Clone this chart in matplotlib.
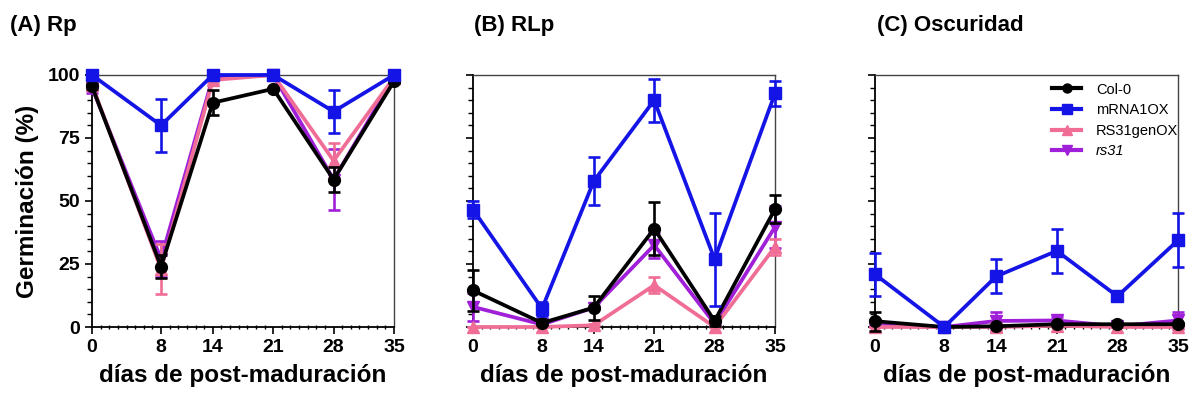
import matplotlib
matplotlib.use('Agg')
import matplotlib.pyplot as plt
from matplotlib.ticker import MultipleLocator
from matplotlib.lines import Line2D

plt.rcParams['font.family'] = ['Liberation Sans', 'DejaVu Sans']

days = [0, 8, 14, 21, 28, 35]
genotypes = ['Col-0', 'mRNA1OX', 'RS31genOX', 'rs31']
colors = ['#000000', '#1414E6', '#F06E96', '#A01FD8']
markers = ['o', 's', '^', 'v']
zorders = [5, 6, 4, 3]

panel_titles = ['(A) Rp', '(B) RLp', '(C) Oscuridad']

# (A) Rp
rp_col0 = [95.5, 24, 89, 94.5, 58.5, 97.5]
rp_col0_err = [1, 4.5, 5, 0.5, 5, 0.5]
rp_mrna = [100, 80, 100, 100, 85.5, 100]
rp_mrna_err = [0, 10.5, 0, 0, 8.5, 0]
rp_gen = [96, 23, 98, 100, 66, 99]
rp_gen_err = [1, 10, 1, 0, 7, 0.5]
rp_rs31 = [95, 27, 99, 100, 58.5, 99]
rp_rs31_err = [2, 7, 0.5, 0, 12, 0.5]

# (B) RLp
rlp_col0 = [14.5, 1.6, 7.7, 39, 2.4, 46.8]
rlp_col0_err = [8.2, 1, 4.8, 10.6, 2, 5.5]
rlp_mrna = [46.6, 7.3, 57.9, 90, 26.9, 92.7]
rlp_mrna_err = [3.3, 2.8, 9.6, 8.6, 18.5, 5]
rlp_gen = [0, 0, 0.7, 16.6, 0, 31.8]
rlp_gen_err = [0, 0, 0.5, 3.2, 0, 3.3]
rlp_rs31 = [8, 1, 7.7, 32.5, 1.3, 39.7]
rlp_rs31_err = [5.5, 0.5, 0.5, 5, 0.5, 8.5]

# (C) Oscuridad
osc_col0 = [2.3, 0, 0.3, 1.1, 1.1, 1.1]
osc_col0_err = [3.7, 0, 0.3, 0.5, 0.3, 0.5]
osc_mrna = [20.9, 0, 20.1, 30.2, 12.2, 34.4]
osc_mrna_err = [8.6, 0, 6.8, 8.8, 0.5, 10.7]
osc_gen = [0, 0, 0, 0.5, 0, 0]
osc_gen_err = [0, 0, 1.5, 0.5, 0, 0.5]
osc_rs31 = [0.7, 0, 2.4, 2.6, 0.3, 2.6]
osc_rs31_err = [0.5, 0, 3.5, 1.5, 0.3, 3.5]

panels = [
    [(rp_col0, rp_col0_err), (rp_mrna, rp_mrna_err), (rp_gen, rp_gen_err), (rp_rs31, rp_rs31_err)],
    [(rlp_col0, rlp_col0_err), (rlp_mrna, rlp_mrna_err), (rlp_gen, rlp_gen_err), (rlp_rs31, rlp_rs31_err)],
    [(osc_col0, osc_col0_err), (osc_mrna, osc_mrna_err), (osc_gen, osc_gen_err), (osc_rs31, osc_rs31_err)],
]

W, H = 1195, 401
fig = plt.figure(figsize=(W / 100, H / 100), dpi=100)

# axes boxes in pixels: left, right
boxes = [(92, 394), (473, 775), (875, 1178)]
top_px, bottom_px = 75, 327
title_x = [10, 474, 877]

for i, (l, r) in enumerate(boxes):
    ax = fig.add_axes([l / W, 1 - bottom_px / H, (r - l) / W, (bottom_px - top_px) / H])
    for j, (vals, errs) in enumerate(panels[i]):
        cont = ax.errorbar(days, vals, yerr=errs, color=colors[j], marker=markers[j],
                           markersize=8.5, lw=2.7, elinewidth=1.9, capsize=4, capthick=1.9,
                           zorder=zorders[j])
        for art in cont.lines[0:1] + tuple(cont.lines[1]) + tuple(cont.lines[2]):
            art.set_clip_on(False)
    ax.set_xlim(0, 35)
    ax.set_ylim(0, 100)
    ax.set_xticks(days)
    ax.xaxis.set_minor_locator(MultipleLocator(1))
    ax.set_yticks([0, 25, 50, 75, 100])
    ax.yaxis.set_minor_locator(MultipleLocator(5))
    ax.tick_params(axis='both', which='major', labelsize=14, width=1.2, length=5, direction='out')
    ax.tick_params(axis='y', which='minor', width=1.0, length=3.5, direction='out')
    ax.tick_params(axis='x', which='minor', width=1.0, length=2.5, direction='inout')
    for lab in ax.get_xticklabels() + ax.get_yticklabels():
        lab.set_fontweight('bold')
    if i > 0:
        ax.set_yticklabels([])
    for side in ['left', 'bottom']:
        ax.spines[side].set_linewidth(1.3)
    for side in ['top', 'right']:
        ax.spines[side].set_linewidth(1.0)
        ax.spines[side].set_color('#444444')
    ax.set_xlabel('días de post-maduración', fontsize=17.5, fontweight='bold', labelpad=6)
    if i == 0:
        ax.set_ylabel('Germinación (%)', fontsize=17.5, fontweight='bold', labelpad=6)
    fig.text(title_x[i] / W, 1 - 25 / H, panel_titles[i], fontsize=16, fontweight='bold',
             ha='left', va='center')
    if i == 2:
        handles = [Line2D([], [], color=colors[j], marker=markers[j], markersize=6.5, lw=3)
                   for j in range(len(genotypes))]
        leg = ax.legend(handles, genotypes, loc='upper left', bbox_to_anchor=(0.585, 0.97),
                        frameon=False, fontsize=10.5, handlelength=2.0, handletextpad=1.0,
                        labelspacing=0.45, borderpad=0, borderaxespad=0)
        leg.get_texts()[3].set_fontstyle('italic')

fig.savefig('out.png', dpi=100)
